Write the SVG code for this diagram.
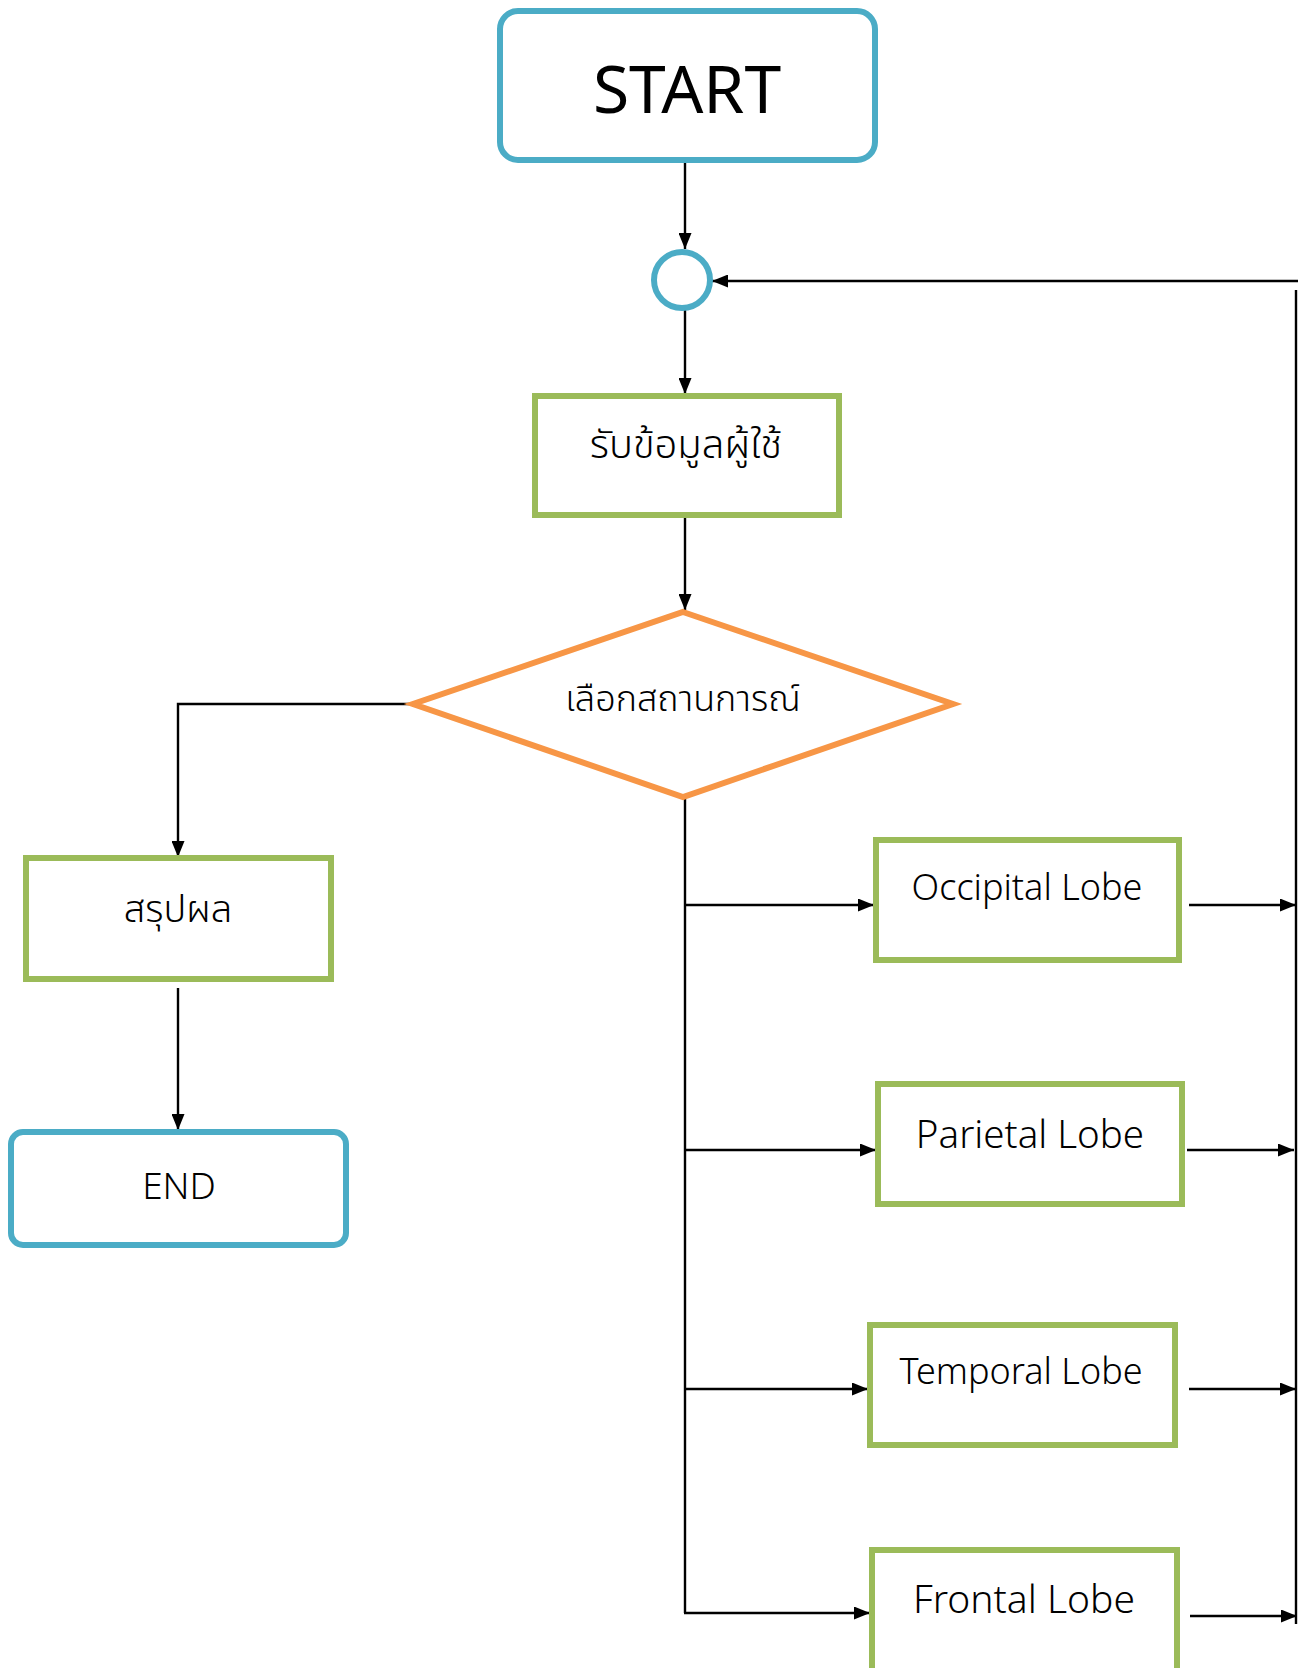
<svg xmlns="http://www.w3.org/2000/svg" width="1298" height="1668" viewBox="0 0 1298 1668">
<style>
.term{fill:#fff;stroke:#4BACC6;stroke-width:6}
.proc{fill:#fff;stroke:#9BBB59;stroke-width:6}
.dec{fill:#fff;stroke:#F79646;stroke-width:6}
.ln{fill:none;stroke:#000;stroke-width:2.4}
.lat{font-family:"Noto Sans","Open Sans","Liberation Sans",sans-serif;font-weight:300;fill:#000;text-anchor:middle}
.lat.reg{font-weight:400}
.th{font-family:"Noto Sans Thai","Noto Sans Thai UI","Noto Sans","Liberation Sans",sans-serif;font-weight:300;fill:#000;text-anchor:middle}
</style>
<defs>
<marker id="ah" viewBox="0 0 16 13" refX="16" refY="6.5" markerWidth="16" markerHeight="13" markerUnits="userSpaceOnUse" orient="auto">
<path d="M0,0 L16,6.5 L0,13 Z" fill="#000"/>
</marker>
</defs>
<g id="connectors">
<line class="ln" x1="685" y1="163" x2="685" y2="249" marker-end="url(#ah)"/>
<line class="ln" x1="685" y1="310" x2="685" y2="394" marker-end="url(#ah)"/>
<line class="ln" x1="685" y1="518" x2="685" y2="610" marker-end="url(#ah)"/>
<polyline class="ln" points="413,704 178,704 178,857" marker-end="url(#ah)"/>
<line class="ln" x1="178" y1="988" x2="178" y2="1130" marker-end="url(#ah)"/>
<line class="ln" x1="685" y1="797" x2="685" y2="1613"/>
<line class="ln" x1="685" y1="905" x2="874" y2="905" marker-end="url(#ah)"/>
<line class="ln" x1="685" y1="1150" x2="876" y2="1150" marker-end="url(#ah)"/>
<line class="ln" x1="685" y1="1389" x2="868" y2="1389" marker-end="url(#ah)"/>
<line class="ln" x1="684" y1="1613" x2="870" y2="1613" marker-end="url(#ah)"/>
<line class="ln" x1="1189" y1="905" x2="1296" y2="905" marker-end="url(#ah)"/>
<line class="ln" x1="1187" y1="1150" x2="1294" y2="1150" marker-end="url(#ah)"/>
<line class="ln" x1="1189" y1="1389" x2="1296" y2="1389" marker-end="url(#ah)"/>
<line class="ln" x1="1190" y1="1616" x2="1297" y2="1616" marker-end="url(#ah)"/>
<line class="ln" x1="1296" y1="290" x2="1296" y2="1624"/>
<line class="ln" x1="1298" y1="281" x2="712" y2="281" marker-end="url(#ah)"/>
</g>
<g id="start">
<rect class="term" x="500" y="11" width="375" height="149" rx="18"/>
<text class="lat reg" x="687" y="113" font-size="66">START</text>
</g>
<g id="connector-circle">
<circle class="term" cx="682" cy="280" r="28" stroke-width="5"/>
</g>
<g id="input">
<rect class="proc" x="535" y="396" width="304" height="119"/>
<text class="th" x="686" y="458" font-size="40">รับข้อมูลผู้ใช้</text>
</g>
<g id="decision">
<polygon class="dec" points="683,612 953,704 683,797 413,704"/>
<text class="th" x="683" y="711" font-size="36">เลือกสถานการณ์</text>
</g>
<g id="summary">
<rect class="proc" x="26" y="858" width="305" height="121"/>
<text class="th" x="178" y="922" font-size="38">สรุปผล</text>
</g>
<g id="end">
<rect class="term" x="11" y="1132" width="335" height="113" rx="12"/>
<text class="lat" x="179" y="1199" font-size="37">END</text>
</g>
<g id="occipital">
<rect class="proc" x="876" y="840" width="303" height="120"/>
<text class="lat" x="1027" y="900" font-size="36">Occipital Lobe</text>
</g>
<g id="parietal">
<rect class="proc" x="878" y="1084" width="304" height="120"/>
<text class="lat" x="1030" y="1148" font-size="38.5">Parietal Lobe</text>
</g>
<g id="temporal">
<rect class="proc" x="870" y="1325" width="305" height="120"/>
<text class="lat" x="1021" y="1384" font-size="36">Temporal Lobe</text>
</g>
<g id="frontal">
<rect class="proc" x="872" y="1550" width="305" height="122"/>
<text class="lat" x="1024" y="1613" font-size="39">Frontal Lobe</text>
</g>
</svg>
